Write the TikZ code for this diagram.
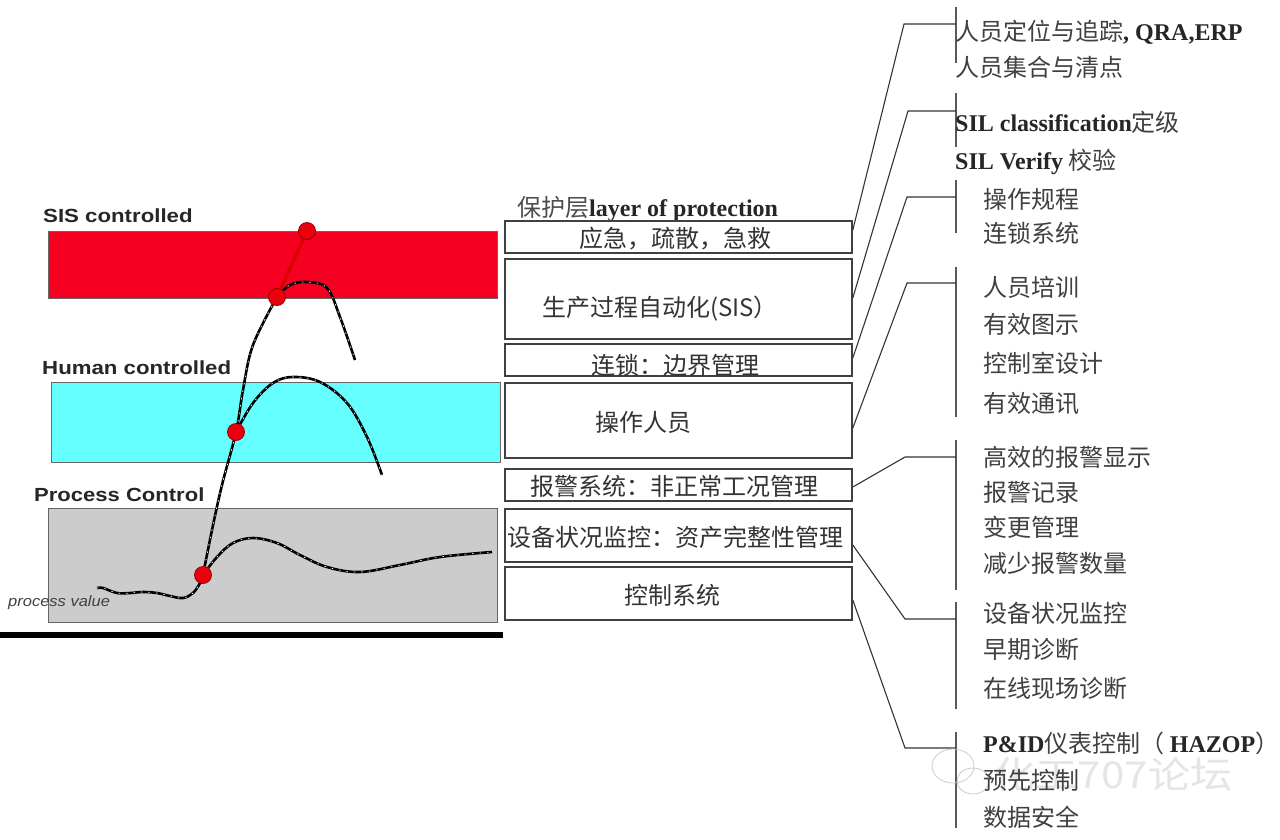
\documentclass[tikz,border=0pt]{standalone}
\usepackage{fontspec}
\usepackage{graphicx}
\setmainfont{Liberation Serif}
\newfontfamily\cjk{Noto Sans CJK SC}
\newfontfamily\arial{Liberation Sans}
\usetikzlibrary{calc}
\definecolor{sisred}{RGB}{245,0,32}
\definecolor{humcyan}{RGB}{102,255,255}
\definecolor{pcgray}{RGB}{204,204,204}
\definecolor{dotred}{RGB}{235,0,15}
\begin{document}
\begin{tikzpicture}[x=1pt,y=-1pt,
  lbl/.style={font=\arial\bfseries\fontsize{19}{22}\selectfont, text=black!85, anchor=west, inner sep=0},
  band/.style={draw=black!60, line width=0.8pt, anchor=north west, inner sep=0, minimum width=449pt},
  layerbox/.style={draw=black!75, line width=1.6pt, minimum width=347pt, inner sep=0},
  boxtxt/.style={font=\cjk\fontsize{24}{28}\selectfont, text=black!80, inner sep=0, text height=0.8em, text depth=0.1em, yshift=-6pt},
  item/.style={font=\cjk\fontsize{24}{28}\selectfont, text=black!75, anchor=west, inner sep=0, text height=0.8em, text depth=0.1em, yshift=-6pt},
  link/.style={draw=black!80, line width=1.1pt},
  bracket/.style={draw=black!65, line width=1.4pt},
  pv/.style={line width=2.6pt, black, postaction={draw=white, line width=0.7pt, dash pattern=on 1.5pt off 6pt}},
  dot/.style={circle, fill=dotred, draw=red!60!black, line width=0.8pt, minimum size=17pt, inner sep=0}]

\useasboundingbox (0,0) rectangle (1280,839);
\fill[white] (0,0) rectangle (1280,839);

% ---- left bands ----
\node[lbl] (sisl) at (43,216) {\scalebox{1.17}[1]{SIS controlled}};
\node[band, fill=sisred, minimum height=67pt] (sis) at (48,231) {};
\node[lbl] (huml) at (42,368) {\scalebox{1.17}[1]{Human controlled}};
\node[band, fill=humcyan, minimum height=80pt] (hum) at (51,382) {};
\node[lbl] (pcl) at (34,495) {\scalebox{1.16}[1]{Process Control}};
\node[band, fill=pcgray, minimum height=114pt] (pc) at (48,508) {};
\fill[black] (0,632) rectangle (503,638);
\node[font=\arial\itshape\fontsize{15}{17}\selectfont, text=black!75, anchor=west, inner sep=0] (pvl) at (8,603) {\scalebox{1.1}[1]{process value}};

% ---- curves ----
\coordinate (p1) at (307,231);
\coordinate (p2) at (277,297);
\coordinate (p3) at (236,432);
\coordinate (p4) at (203,575);

\draw[pv] plot[smooth, tension=0.6] coordinates {(97,588) (103,588) (117,593) (130,593) (143,592) (157,593) (170,596) (183,598) (193,593) (200,583) (p4)};
\draw[pv] plot[smooth, tension=0.6] coordinates {(p4) (212,530) (222,485) (p3) (243,390) (253,345) (p2)};
\draw[pv] plot[smooth, tension=0.6] coordinates {(p4) (217,557) (233,543) (253,538) (277,543) (300,555) (327,567) (360,572) (400,565) (440,557) (492,552)};
\draw[pv] plot[smooth, tension=0.6] coordinates {(p3) (253,403) (273,383) (293,377) (320,382) (347,403) (367,437) (382,475)};
\draw[pv] plot[smooth, tension=0.6] coordinates {(p2) (290,285) (307,282) (327,288) (340,317) (355,360)};
\draw[red!85!black, line width=3.2pt] (p2) -- (p1);

\node[dot] (d1) at (p1) {};
\node[dot] (d2) at (p2) {};
\node[dot] (d3) at (p3) {};
\node[dot] (d4) at (p4) {};

% ---- layer boxes ----
\node[anchor=west, inner sep=0, font=\fontsize{24}{28}\selectfont, text=black!85, yshift=-2pt] (title) at (517,207) {{\cjk\color{black!70}保护层}\textbf{layer of protection}};

\node[layerbox, minimum height=32pt] (b1) at (678.5,237) {};
\node[layerbox, minimum height=80pt] (b2) at (678.5,299) {};
\node[layerbox, minimum height=32pt] (b3) at (678.5,360) {};
\node[layerbox, minimum height=75pt] (b4) at (678.5,420.5) {};
\node[layerbox, minimum height=32pt] (b5) at (678.5,485) {};
\node[layerbox, minimum height=53pt] (b6) at (678.5,535.5) {};
\node[layerbox, minimum height=53pt] (b7) at (678.5,593.5) {};

\node[boxtxt] (t1) at (675,238) {应急，疏散，急救};
\node[boxtxt] (t2) at (660,307) {生产过程自动化(SIS）};
\node[boxtxt] (t3) at (675,365) {连锁：边界管理};
\node[boxtxt] (t4) at (643,422) {操作人员};
\node[boxtxt] (t5) at (674,486) {报警系统：非正常工况管理};
\node[boxtxt] (t6) at (675,537) {设备状况监控：资产完整性管理};
\node[boxtxt] (t7) at (672,595) {控制系统};

% ---- brackets ----
\coordinate (v1t) at (956,7);   \coordinate (v1b) at (956,63);  \coordinate (j1) at (904,24);
\coordinate (v2t) at (956,93);  \coordinate (v2b) at (956,147); \coordinate (j2) at (908,111);
\coordinate (v3t) at (956,180); \coordinate (v3b) at (956,233); \coordinate (j3) at (907,197);
\coordinate (v4t) at (956,267); \coordinate (v4b) at (956,417); \coordinate (j4) at (907,283);
\coordinate (v5t) at (956,440); \coordinate (v5b) at (956,590); \coordinate (j5) at (905,457);
\coordinate (v6t) at (956,602); \coordinate (v6b) at (956,709); \coordinate (j6) at (905,619);
\coordinate (v7t) at (956,732); \coordinate (v7b) at (956,828); \coordinate (j7) at (905,748);

\foreach \i in {1,...,7} {\draw[bracket] (v\i t) -- (v\i b);}

\draw[link] ([yshift=7pt]b1.east) -- (j1) -- (j1 -| v1t);
\draw[link] ([yshift=1pt]b2.east) -- (j2) -- (j2 -| v2t);
\draw[link] ([yshift=2pt]b3.east) -- (j3) -- (j3 -| v3t);
\draw[link] ([yshift=-7.5pt]b4.east) -- (j4) -- (j4 -| v4t);
\draw[link] ([yshift=-2pt]b5.east) -- (j5) -- (j5 -| v5t);
\draw[link] ([yshift=-9.5pt]b6.east) -- (j6) -- (j6 -| v6t);
\draw[link] ([yshift=-6.5pt]b7.east) -- (j7) -- (j7 -| v7t);

% ---- watermark (behind the items) ----
\draw[black!20, line width=0.8pt] (953,766) ellipse (21pt and 17pt);
\draw[black!20, line width=0.8pt] (973,781) ellipse (16pt and 13pt);
\node[font=\cjk\fontsize{37}{40}\selectfont, text=black!10, inner sep=0] (wm) at (1113,774) {\scalebox{1.14}[1]{化工707论坛}};

% ---- right items ----
\node[item] (r11) at (955,31) {人员定位与追踪{\rmfamily\bfseries\color{black!85}, QRA,ERP}};
\node[item] (r12) at (955,67) {人员集合与清点};
\node[item] (r21) at (955,122) {{\rmfamily\bfseries\color{black!85}SIL classification}定级};
\node[item] (r22) at (955,160) {{\rmfamily\bfseries\color{black!85}SIL Verify} 校验};
\node[item] (r31) at (983,199) {操作规程};
\node[item] (r32) at (983,233) {连锁系统};
\node[item] (r41) at (983,287) {人员培训};
\node[item] (r42) at (983,324) {有效图示};
\node[item] (r43) at (983,363) {控制室设计};
\node[item] (r44) at (983,403) {有效通讯};
\node[item] (r51) at (983,457) {高效的报警显示};
\node[item] (r52) at (983,492) {报警记录};
\node[item] (r53) at (983,527) {变更管理};
\node[item] (r54) at (983,563) {减少报警数量};
\node[item] (r61) at (983,613) {设备状况监控};
\node[item] (r62) at (983,649) {早期诊断};
\node[item] (r63) at (983,688) {在线现场诊断};
\node[item] (r71) at (983,743) {{\rmfamily\bfseries\color{black!85}P\&ID}仪表控制（ {\rmfamily\bfseries\color{black!85}HAZOP}）};
\node[item] (r72) at (983,780) {预先控制};
\node[item] (r73) at (983,817) {数据安全};
\end{tikzpicture}
\end{document}
